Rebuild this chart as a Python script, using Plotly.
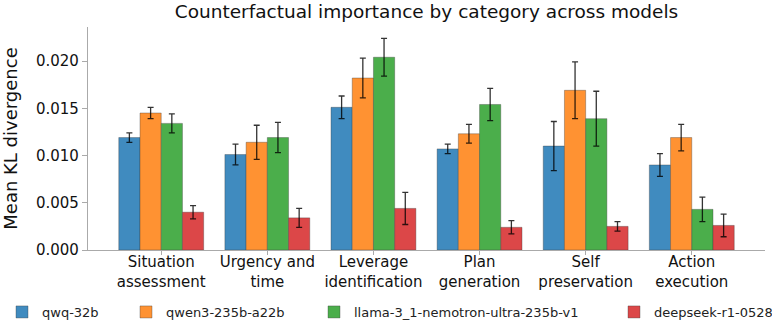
import plotly.graph_objects as go

# categories (two-line tick labels) and models
categories = ["Situation<br>assessment", "Urgency and<br>time", "Leverage<br>identification",
              "Plan<br>generation", "Self<br>preservation", "Action<br>execution"]
models = ["qwq-32b", "qwen3-235b-a22b", "llama-3_1-nemotron-ultra-235b-v1", "deepseek-r1-0528"]

# mean KL divergence per model
qwq_mean = [0.0119, 0.0101, 0.0151, 0.0107, 0.0110, 0.0090]
qwen_mean = [0.0145, 0.0114, 0.0182, 0.0123, 0.0169, 0.0119]
llama_mean = [0.0134, 0.0119, 0.0204, 0.0154, 0.0139, 0.0043]
deepseek_mean = [0.0040, 0.0034, 0.0044, 0.0024, 0.0025, 0.0026]

# standard errors
qwq_err = [0.0005, 0.0011, 0.0012, 0.0005, 0.0026, 0.0012]
qwen_err = [0.0006, 0.0018, 0.0021, 0.0010, 0.0030, 0.0014]
llama_err = [0.0010, 0.0016, 0.0020, 0.0017, 0.0029, 0.0013]
deepseek_err = [0.0007, 0.0010, 0.0017, 0.0007, 0.0005, 0.0012]

colors = ["rgb(64,139,191)", "rgb(255,146,50)", "rgb(75,174,75)", "rgb(220,71,72)"]
means = [qwq_mean, qwen_mean, llama_mean, deepseek_mean]
errs = [qwq_err, qwen_err, llama_err, deepseek_err]

FONT = "DejaVu Sans"
x = list(range(len(categories)))

fig = go.Figure()
legend_ids = ["legend", "legend2", "legend3", "legend4"]
for i, m in enumerate(models):
    fig.add_trace(go.Bar(
        x=x, y=means[i], name=m,
        marker=dict(color=colors[i], line=dict(color="rgba(60,60,60,0.45)", width=0.8)),
        error_y=dict(type="data", array=errs[i], color="rgba(0,0,0,0.8)", thickness=1.3, width=3),
        legend=legend_ids[i],
    ))

# one legend per entry, spread across the bottom like matplotlib's expand mode
legend_px = [2, 126, 314, 614]
leg = {}
for lid, px in zip(legend_ids, legend_px):
    leg[lid] = dict(x=px / 772, y=16 / 328, xref="container", yref="container",
                    xanchor="left", yanchor="middle",
                    orientation="h", font=dict(family=FONT, size=13, color="#222"),
                    bgcolor="rgba(0,0,0,0)", itemwidth=30)

fig.update_layout(
    width=772, height=328,
    margin=dict(l=88, r=7, t=27, b=78, autoexpand=False),
    paper_bgcolor="white", plot_bgcolor="white",
    font=dict(family=FONT, color="#111"),
    title=dict(text="Counterfactual importance by category across models", x=0.5, xref="paper",
               xanchor="center", y=1 - 5 / 328, yref="container", yanchor="top",
               font=dict(family=FONT, size=18.5, color="#111")),
    barmode="group", bargap=0.2, bargroupgap=0,
    showlegend=True,
    **leg,
)
fig.update_xaxes(range=[-0.69, 5.69], tickvals=x, ticktext=categories, showline=True,
                 linecolor="#aaa", linewidth=1.2, ticks="outside", ticklen=4, tickcolor="#aaa",
                 ticklabelstandoff=-6, automargin=False,
                 tickfont=dict(family=FONT, size=15, color="#111"), showgrid=False, zeroline=False)
fig.update_yaxes(range=[0, 0.0236], tickvals=[0, 0.005, 0.01, 0.015, 0.02], tickformat=".3f",
                 showline=True, linecolor="#aaa", linewidth=1.2, ticks="outside", ticklen=5,
                 tickcolor="#aaa", tickfont=dict(family=FONT, size=15, color="#111"),
                 showgrid=False, zeroline=False, automargin=False,
                 title=dict(text="Mean KL divergence", font=dict(family=FONT, size=18, color="#111"),
                            standoff=17))

# drop the browser's default body margin so the figure sits at the page corner
fig.write_html("out.html", config={"displayModeBar": False},
               post_script="document.body.style.margin='0';")
